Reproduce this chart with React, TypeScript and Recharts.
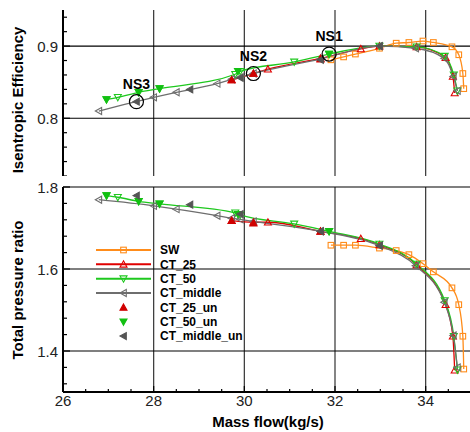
import React from 'react';
import { LineChart, Line, XAxis, YAxis, ReferenceLine, ReferenceDot } from 'recharts';

// axis ticks
const massTicks = [26, 26.5, 27, 27.5, 28, 28.5, 29, 29.5, 30, 30.5, 31, 31.5, 32, 32.5, 33, 33.5, 34, 34.5, 35];
const massLabels = [26, 28, 30, 32, 34];
const massGrid = [28, 30, 32, 34];
const effTicks = [0.72, 0.74, 0.76, 0.78, 0.8, 0.82, 0.84, 0.86, 0.88, 0.9, 0.92, 0.94];
const effLabels = [0.8, 0.9];
const effGrid = [0.8, 0.9];
const prTicks = [1.32, 1.36, 1.4, 1.44, 1.48, 1.52, 1.56, 1.6, 1.64, 1.68, 1.72, 1.76, 1.8];
const prLabels = [1.4, 1.6, 1.8];
const prGrid = [1.4, 1.6, 1.8];

// SW
const swX = [31.91, 32.19, 32.45, 32.98, 33.35, 33.63, 33.94, 34.17, 34.58, 34.73, 34.82, 34.84];
const swEff = [0.881, 0.885, 0.889, 0.897, 0.904, 0.905, 0.907, 0.905, 0.899, 0.888, 0.862, 0.841];
const swPR = [1.658, 1.658, 1.658, 1.651, 1.645, 1.635, 1.613, 1.593, 1.554, 1.513, 1.436, 1.356];

// CT_25
const ct25X = [29.72, 30.2, 30.52, 31.68, 32.57, 32.98, 33.8, 34.44, 34.6, 34.64];
const ct25Eff = [0.853, 0.862, 0.868, 0.883, 0.896, 0.9, 0.899, 0.884, 0.858, 0.835];
const ct25PR = [1.718, 1.714, 1.714, 1.692, 1.674, 1.659, 1.61, 1.513, 1.436, 1.353];

// CT_50
const ct50X = [26.96, 27.21, 27.67, 28.13, 29.8, 29.91, 31.1, 31.87, 32.98, 33.8, 34.42, 34.62, 34.7];
const ct50Eff = [0.826, 0.829, 0.836, 0.841, 0.861, 0.865, 0.878, 0.889, 0.9, 0.899, 0.886, 0.86, 0.838];
const ct50PR = [1.779, 1.775, 1.765, 1.759, 1.737, 1.732, 1.71, 1.692, 1.661, 1.612, 1.523, 1.436, 1.354];

// CT_middle
const ctmX = [26.79, 28.0, 28.5, 29.4, 29.72, 29.91, 30.2, 31.68, 32.98, 33.78, 34.41, 34.61, 34.7];
const ctmEff = [0.81, 0.829, 0.836, 0.848, 0.854, 0.857, 0.862, 0.882, 0.9, 0.897, 0.883, 0.858, 0.838];
const ctmPR = [1.769, 1.754, 1.746, 1.73, 1.724, 1.721, 1.716, 1.692, 1.657, 1.608, 1.519, 1.438, 1.36];

// unsteady points
const ct25unX = [29.72, 30.2, 31.68];
const ct25unEff = [0.853, 0.862, 0.882];
const ct25unPR = [1.718, 1.712, 1.692];

const ct50unX = [26.96, 27.67, 28.13, 29.86, 31.87];
const ct50unEff = [0.826, 0.836, 0.841, 0.865, 0.889];
const ct50unPR = [1.779, 1.765, 1.759, 1.733, 1.692];

const ctmunX = [27.62, 28.8, 29.91, 31.68, 32.98];
const ctmunEff = [0.823, 0.84, 0.856, 0.881, 0.9];
const ctmunPR = [1.779, 1.757, 1.734, 1.692, 1.657];

// NS markers
const nsNames = ['NS1', 'NS2', 'NS3'];
const nsX = [31.87, 30.2, 27.62];
const nsEff = [0.889, 0.862, 0.823];

const FONT = '"Liberation Sans", Arial, sans-serif';

type Shape = 'square' | 'up' | 'down' | 'left';

const rows = (xs: number[], ys: number[]) => xs.map((x, i) => ({ x, y: ys[i] }));

const series = [
  { name: 'SW', x: swX, eff: swEff, pr: swPR, color: '#ff8c1a', shape: 'square' as Shape, filled: false, line: true },
  { name: 'CT_25', x: ct25X, eff: ct25Eff, pr: ct25PR, color: '#e00000', shape: 'up' as Shape, filled: false, line: true },
  { name: 'CT_50', x: ct50X, eff: ct50Eff, pr: ct50PR, color: '#1ec81e', shape: 'down' as Shape, filled: false, line: true },
  { name: 'CT_middle', x: ctmX, eff: ctmEff, pr: ctmPR, color: '#6e6e6e', shape: 'left' as Shape, filled: false, line: true },
  { name: 'CT_25_un', x: ct25unX, eff: ct25unEff, pr: ct25unPR, color: '#d00000', shape: 'up' as Shape, filled: true, line: false },
  { name: 'CT_50_un', x: ct50unX, eff: ct50unEff, pr: ct50unPR, color: '#12c012', shape: 'down' as Shape, filled: true, line: false },
  { name: 'CT_middle_un', x: ctmunX, eff: ctmunEff, pr: ctmunPR, color: '#555555', shape: 'left' as Shape, filled: true, line: false }
];

const Marker = ({ cx, cy, shape, color, filled }: any) => {
  if (cx == null || cy == null) return null;
  const fill = filled ? color : 'none';
  const s = 3.5;
  if (shape === 'square') {
    return <rect x={cx - 2.8} y={cy - 2.8} width={5.6} height={5.6} fill={fill} stroke={color} strokeWidth={1.1} />;
  }
  let pts = '';
  if (shape === 'up') pts = `${cx},${cy - s} ${cx + s},${cy + s * 0.8} ${cx - s},${cy + s * 0.8}`;
  if (shape === 'down') pts = `${cx},${cy + s} ${cx + s},${cy - s * 0.8} ${cx - s},${cy - s * 0.8}`;
  if (shape === 'left') pts = `${cx - s},${cy} ${cx + s * 0.8},${cy - s} ${cx + s * 0.8},${cy + s}`;
  return <polygon points={pts} fill={fill} stroke={color} strokeWidth={1.1} />;
};

const dotRenderer = (shape: Shape, color: string, filled: boolean) => (props: any) => (
  <Marker key={`m-${props.index}`} cx={props.cx} cy={props.cy} shape={shape} color={color} filled={filled} />
);

const isIn = (list: number[], v: number) => list.some((l) => Math.abs(l - v) < 1e-6);

const YTick = (props: any) => {
  const { x, y, payload, labels } = props;
  const major = isIn(labels, payload.value);
  return (
    <g>
      <line x1={x + 5} x2={x + 5 + (major ? 7 : 4)} y1={y} y2={y} stroke="#000" strokeWidth={1.2} />
      {major && (
        <text x={x} y={y} dy={6} textAnchor="end" fontSize={15} fontFamily={FONT} fill="#222">
          {payload.value.toFixed(1)}
        </text>
      )}
    </g>
  );
};

const XTick = (props: any) => {
  const { x, y, payload } = props;
  const major = isIn(massLabels, payload.value);
  return (
    <g>
      <line x1={x} x2={x} y1={y} y2={y - (major ? 6 : 3)} stroke="#000" strokeWidth={1.2} />
      {major && (
        <text x={x} y={y + 14} textAnchor="middle" fontSize={15} fontFamily={FONT} fill="#222">
          {payload.value}
        </text>
      )}
    </g>
  );
};

const renderSeries = (key: 'eff' | 'pr') =>
  series.map((s) => (
    <Line
      key={`${key}-${s.name}`}
      data={rows(s.x, s[key])}
      dataKey="y"
      name={s.name}
      type="monotone"
      stroke={s.line ? s.color : 'none'}
      strokeWidth={s.line ? 1.3 : 0}
      dot={dotRenderer(s.shape, s.color, s.filled)}
      activeDot={false}
      isAnimationActive={false}
    />
  ));

const LegendBox = () => (
  <g>
    {series.map((s, i) => {
      const y = 250 + i * 14.35;
      return (
        <g key={s.name}>
          {s.line && <line x1={96} x2={151} y1={y} y2={y} stroke={s.color} strokeWidth={2} />}
          <Marker cx={123.5} cy={y} shape={s.shape} color={s.color} filled={s.filled} />
          <text x={160} y={y} dy={4.3} fontSize={12} fontWeight="bold" fontFamily={FONT} fill="#000">
            {s.name}
          </text>
        </g>
      );
    })}
  </g>
);

export default function App() {
  return (
    <div style={{ position: 'fixed', left: 0, top: 0, width: 470, height: 432, overflow: 'hidden', background: '#fff' }}>
      <div style={{ position: 'absolute', left: 0, top: 0 }}>
        <LineChart width={471} height={176} margin={{ top: 10, right: 0, bottom: 0, left: 0 }}>
          <XAxis dataKey="x" type="number" domain={[26, 35]} allowDataOverflow hide />
          <YAxis
            type="number"
            domain={[0.72, 0.95]}
            allowDataOverflow
            ticks={effTicks}
            interval={0}
            width={63}
            tickSize={0}
            tickMargin={5}
            tickLine={false}
            axisLine={{ stroke: '#000', strokeWidth: 2 }}
            tick={<YTick labels={effLabels} />}
          />
          {massGrid.map((v) => (
            <ReferenceLine key={`tv-${v}`} x={v} stroke="#333" strokeWidth={1.2} />
          ))}
          {effGrid.map((v) => (
            <ReferenceLine key={`th-${v}`} y={v} stroke="#000" strokeWidth={1.2} />
          ))}
          {renderSeries('eff')}
          {nsNames.map((n, i) => (
            <ReferenceDot
              key={n}
              x={nsX[i]}
              y={nsEff[i]}
              r={7}
              fill="none"
              stroke="#000"
              strokeWidth={1.2}
              label={{ value: n, position: 'top', offset: 6, fontSize: 14, fontWeight: 'bold', fill: '#000', fontFamily: FONT }}
            />
          ))}
        </LineChart>
      </div>
      <div style={{ position: 'absolute', left: 0, top: 180 }}>
        <LineChart width={471} height={242} margin={{ top: 7, right: 0, bottom: 0, left: 0 }}>
          <XAxis
            dataKey="x"
            type="number"
            domain={[26, 35]}
            allowDataOverflow
            ticks={massTicks}
            interval={0}
            height={30}
            tickSize={0}
            tickMargin={0}
            tickLine={false}
            axisLine={{ stroke: '#000', strokeWidth: 2 }}
            tick={<XTick />}
          />
          <YAxis
            type="number"
            domain={[1.3, 1.8]}
            allowDataOverflow
            ticks={prTicks}
            interval={0}
            width={63}
            tickSize={0}
            tickMargin={5}
            tickLine={false}
            axisLine={{ stroke: '#000', strokeWidth: 2 }}
            tick={<YTick labels={prLabels} />}
          />
          {massGrid.map((v) => (
            <ReferenceLine key={`bv-${v}`} x={v} stroke="#333" strokeWidth={1.2} />
          ))}
          {prGrid.map((v) => (
            <ReferenceLine key={`bh-${v}`} y={v} stroke="#000" strokeWidth={1.2} />
          ))}
          {renderSeries('pr')}
        </LineChart>
      </div>
      <svg
        width={470}
        height={432}
        style={{ position: 'absolute', left: 0, top: 0, pointerEvents: 'none' }}
      >
        <text
          x={17}
          y={100}
          transform="rotate(-90 17 100)"
          textAnchor="middle"
          dominantBaseline="central"
          fontSize={15}
          fontWeight="bold"
          fontFamily={FONT}
          fill="#000"
        >
          Isentropic Efficiency
        </text>
        <text
          x={17}
          y={290}
          transform="rotate(-90 17 290)"
          textAnchor="middle"
          dominantBaseline="central"
          fontSize={15}
          fontWeight="bold"
          fontFamily={FONT}
          fill="#000"
        >
          Total pressure ratio
        </text>
        <text x={268} y={427} textAnchor="middle" fontSize={15} fontWeight="bold" fontFamily={FONT} fill="#000">
          Mass flow(kg/s)
        </text>
        <LegendBox />
      </svg>
    </div>
  );
}
